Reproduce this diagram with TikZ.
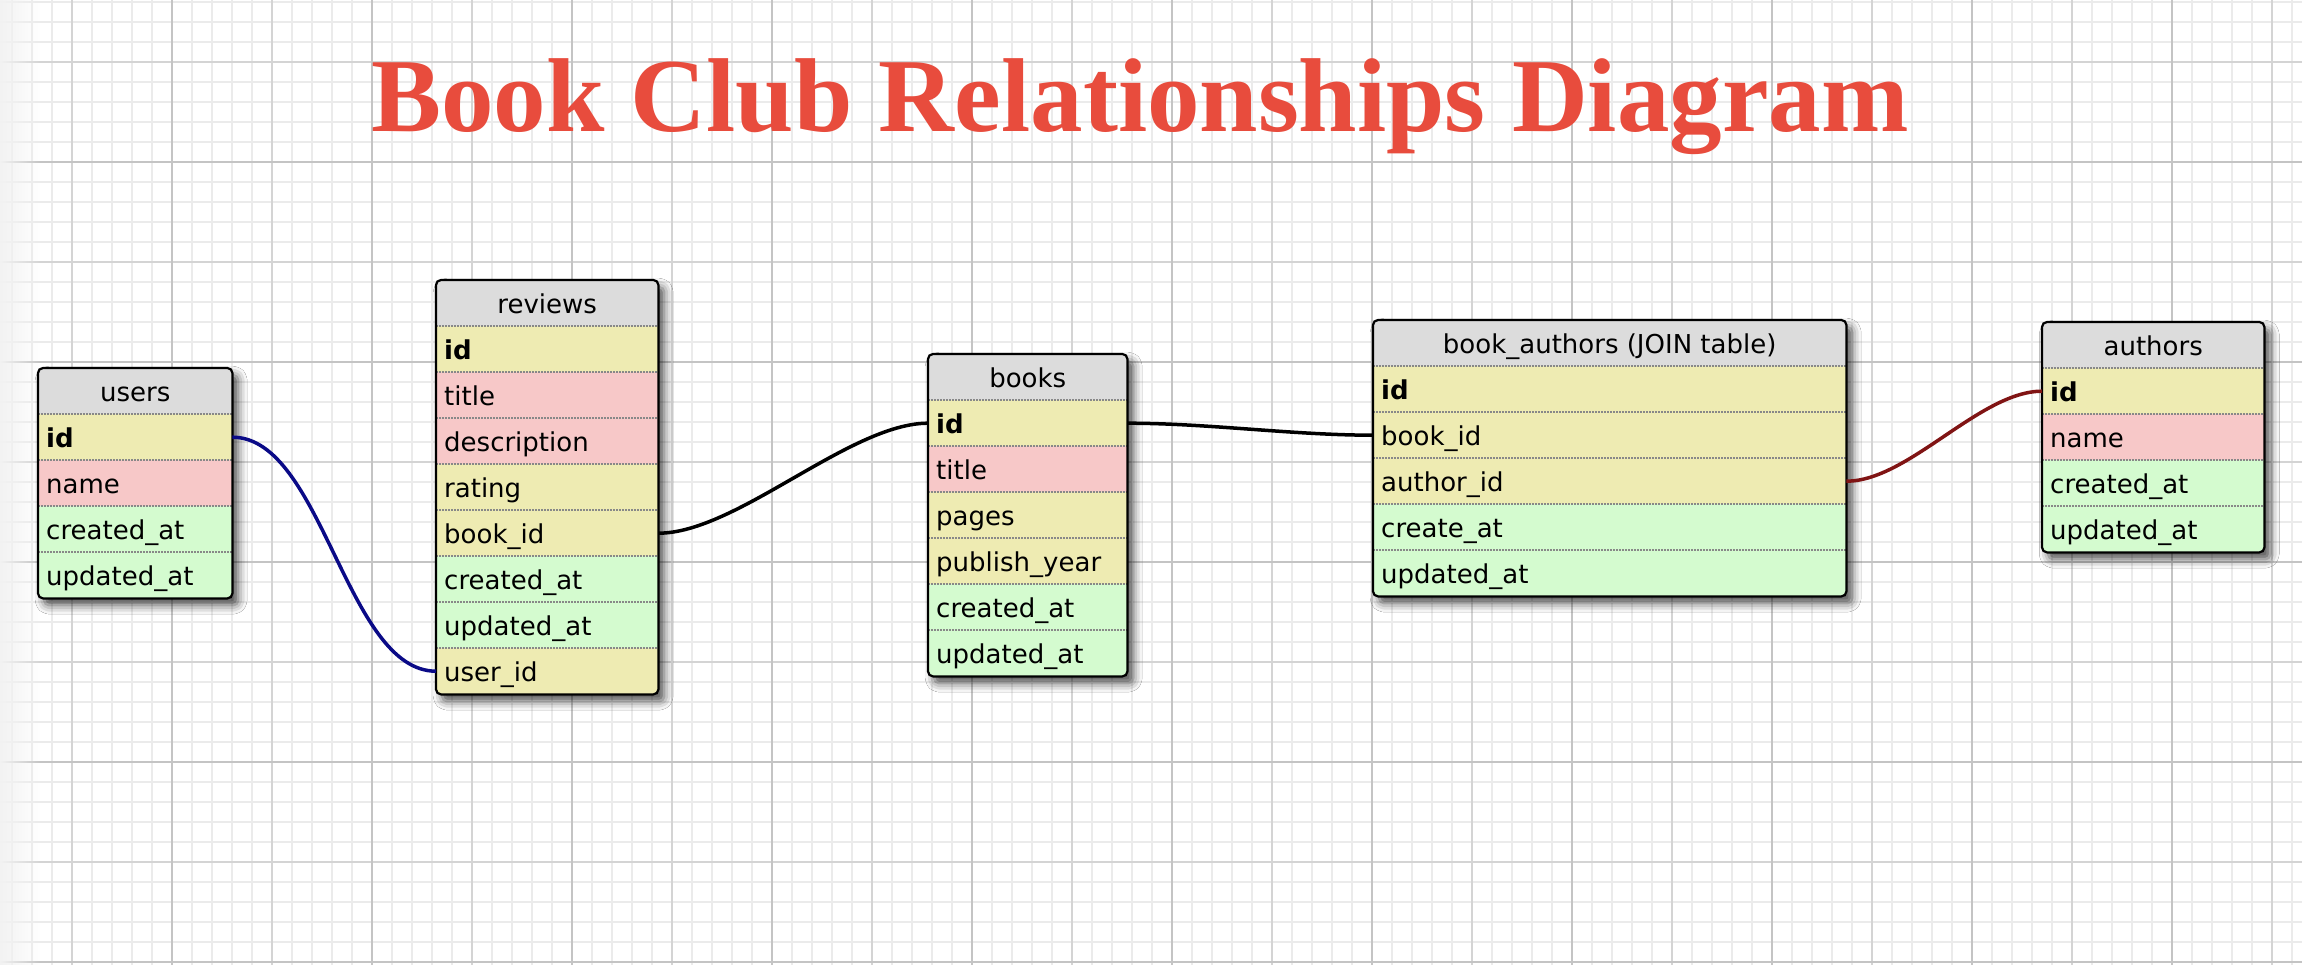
\documentclass[tikz,border=0pt]{standalone}
\usepackage{fontspec}
\setmainfont{DejaVu Sans}
\newfontfamily\titlefont{Liberation Serif}
\usetikzlibrary{calc,shadows.blur,fadings}
\definecolor{rowY}{RGB}{238,235,178}
\definecolor{rowP}{RGB}{247,200,200}
\definecolor{rowG}{RGB}{212,251,207}
\definecolor{hdr}{RGB}{220,220,220}
\definecolor{gridF}{RGB}{235,235,235}
\definecolor{gridM}{RGB}{212,212,212}
\definecolor{gridD}{RGB}{196,196,196}
\definecolor{titlered}{RGB}{232,76,61}
\definecolor{linkblue}{RGB}{10,10,135}
\definecolor{linkred}{RGB}{128,20,20}
\definecolor{divgray}{RGB}{136,136,136}
\tikzfading[name=edgefade, left color=transparent!0, right color=transparent!100]
\tikzset{
  tablebox/.style={rectangle, rounded corners=5pt, fill=white, inner sep=0pt,
    blur shadow={shadow xshift=6pt, shadow yshift=-7pt, shadow blur radius=9pt, shadow opacity=70}},
  rowcell/.style={rectangle, inner xsep=8pt, inner ysep=0pt, minimum height=46pt,
    text height=27pt, text depth=6pt, align=left, font=\fontsize{26}{30}\selectfont},
  hdrcell/.style={rectangle, inner sep=0pt, minimum height=46pt, text height=27pt,
    text depth=6pt, align=center, font=\fontsize{26}{30}\selectfont, fill=hdr},
  divider/.style={divgray, line width=1.5pt, dash pattern=on 1.5pt off 1.5pt},
  border/.style={black, line width=2.2pt, rounded corners=5pt},
  link/.style={line width=3.5pt},
  finegrid/.style={gridF, line width=1.6pt},
  midgrid/.style={gridM, line width=1.8pt},
  majgrid/.style={gridD, line width=1.8pt},
  titlestyle/.style={font=\titlefont\bfseries\fontsize{105}{110}\selectfont, text=titlered, anchor=base, inner sep=0pt}
}
% #1 name, #2 x, #3 y, #4 width, #5 rows, #6 title, #7 key/text/colour list
\newcommand{\ertable}[7]{%
  \pgfmathsetmacro\erh{46*(#5+1)}%
  \pgfmathsetmacro\ertw{#4-16}%
  \node[tablebox, minimum width=#4pt, minimum height=\erh pt, anchor=north west] (#1) at (#2,#3) {};
  \begin{scope}
    \clip[rounded corners=5pt] (#1.north west) rectangle (#1.south east);
    \node[hdrcell, minimum width=#4pt, anchor=north west] (#1-head) at (#1.north west) {#6};
    \foreach \k/\t/\c [count=\j] in {#7} {
      \node[rowcell, fill=\c, text width=\ertw pt, anchor=north west] (#1-\k) at ($(#1.north west)+(0,46*\j)$) {\t};
      \draw[divider] (#1-\k.north west) -- (#1-\k.north east);
    }
  \end{scope}
  \draw[border] (#1.north west) rectangle (#1.south east);
}
\begin{document}
\begin{tikzpicture}[x=1pt,y=-1pt]
\useasboundingbox (0,0) rectangle (2302,965);
\fill[white] (0,0) rectangle (2302,965);
% grid
\foreach \x in {12,32,...,2302} \draw[finegrid] (\x,0) -- (\x,965);
\foreach \y in {2,22,...,965} \draw[finegrid] (0,\y) -- (2302,\y);
\foreach \x in {72,272,...,2302} \draw[midgrid] (\x,0) -- (\x,965);
\foreach \y in {62,262,...,965} \draw[midgrid] (0,\y) -- (2302,\y);
\foreach \x in {172,372,...,2302} \draw[majgrid] (\x,0) -- (\x,965);
\foreach \y in {162,362,...,965} \draw[majgrid] (0,\y) -- (2302,\y);
\fill[black!5, path fading=edgefade] (0,0) rectangle (40,965);

% title
\node[titlestyle] (title) at (1140,132) {Book Club Relationships Diagram};

% tables
\ertable{users}{38}{368}{194}{4}{users}{id/\textbf{id}/rowY, name/name/rowP, cat/created\_at/rowG, uat/updated\_at/rowG}
\ertable{reviews}{436}{280}{222}{8}{reviews}{id/\textbf{id}/rowY, title/title/rowP, desc/description/rowP, rating/rating/rowY, bid/book\_id/rowY, cat/created\_at/rowG, uat/updated\_at/rowG, uid/user\_id/rowY}
\ertable{books}{928}{354}{199}{6}{books}{id/\textbf{id}/rowY, title/title/rowP, pages/pages/rowY, pyear/publish\_year/rowY, cat/created\_at/rowG, uat/updated\_at/rowG}
\ertable{ba}{1373}{320}{473}{5}{book\_authors (JOIN table)}{id/\textbf{id}/rowY, bid/book\_id/rowY, aid/author\_id/rowY, cat/create\_at/rowG, uat/updated\_at/rowG}
\ertable{authors}{2042}{322}{222}{4}{authors}{id/\textbf{id}/rowY, name/name/rowP, cat/created\_at/rowG, uat/updated\_at/rowG}

% relationships
\draw[link, linkblue] (users-id.east) .. controls +(90,0) and +(-90,0) .. (reviews-uid.west);
\draw[link, black] (reviews-bid.east) .. controls +(78,0) and +(-78,0) .. (books-id.west);
\draw[link, black] (books-id.east) .. controls +(80,0) and +(-80,0) .. (ba-bid.west);
\draw[link, linkred] (ba-aid.east) .. controls +(62,0) and +(-62,0) .. (authors-id.west);
\end{tikzpicture}
\end{document}
